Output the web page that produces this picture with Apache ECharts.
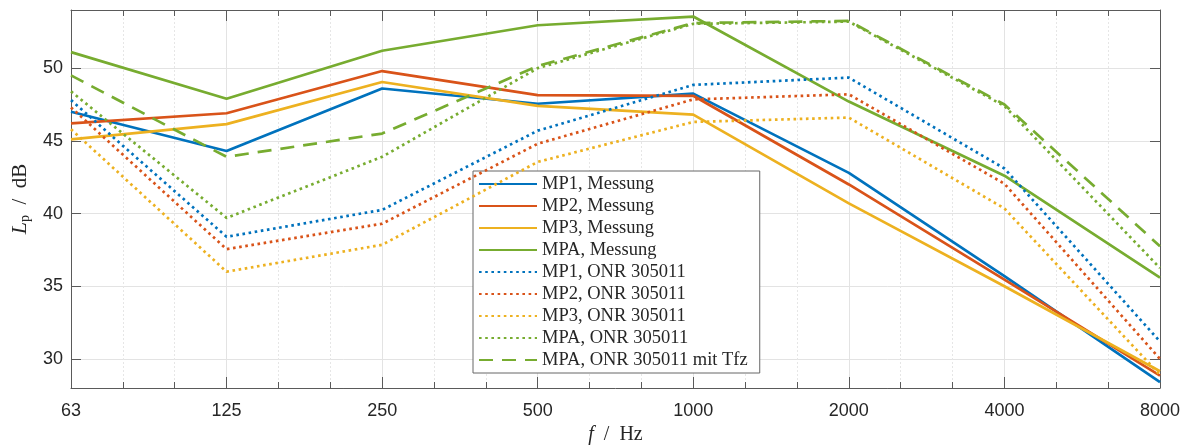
<!DOCTYPE html>
<html>
<head>
<meta charset="utf-8">
<script src="https://cdn.jsdelivr.net/npm/echarts@6/dist/echarts.min.js"></script>
<style>html,body{margin:0;padding:0;background:#fff}#c{width:1191px;height:445px}</style>
</head>
<body>
<div id="c"></div>
<script>
const freqLabels = ['63', '125', '250', '500', '1000', '2000', '4000', '8000'];
const seriesNames = ['MP1, Messung', 'MP2, Messung', 'MP3, Messung', 'MPA, Messung',
  'MP1, ONR 305011', 'MP2, ONR 305011', 'MP3, ONR 305011', 'MPA, ONR 305011', 'MPA, ONR 305011 mit Tfz'];
const mp1Messung = [47.0, 44.3, 48.6, 47.55, 48.25, 42.8, 35.7, 28.4];
const mp2Messung = [46.2, 46.9, 49.8, 48.15, 48.1, 42.0, 35.45, 28.85];
const mp3Messung = [45.1, 46.15, 49.05, 47.4, 46.8, 40.7, 35.0, 29.15];
const mpaMessung = [51.1, 47.9, 51.2, 52.95, 53.55, 47.7, 42.6, 35.6];
const mp1Onr = [47.8, 38.4, 40.25, 45.7, 48.85, 49.35, 43.1, 31.2];
const mp2Onr = [47.3, 37.55, 39.3, 44.8, 47.85, 48.2, 42.05, 30.0];
const mp3Onr = [45.8, 36.0, 37.85, 43.55, 46.3, 46.6, 40.35, 28.9];
const mpaOnr = [48.4, 39.7, 43.9, 50.0, 53.05, 53.2, 47.4, 36.25];
const mpaOnrTfz = [49.5, 43.9, 45.5, 50.15, 53.1, 53.25, 47.5, 37.75];

const C = { blue: '#0072BD', red: '#D95319', yellow: '#EDB120', green: '#77AC30' };
const DOT = [2.6, 3.6];
const DASH = [14, 9];
const styles = [
  { color: C.blue, type: 'solid' }, { color: C.red, type: 'solid' },
  { color: C.yellow, type: 'solid' }, { color: C.green, type: 'solid' },
  { color: C.blue, type: DOT }, { color: C.red, type: DOT },
  { color: C.yellow, type: DOT }, { color: C.green, type: DOT },
  { color: C.green, type: DASH }
];
const allData = [mp1Messung, mp2Messung, mp3Messung, mpaMessung, mp1Onr, mp2Onr, mp3Onr, mpaOnr, mpaOnrTfz];

const series = allData.map((arr, i) => ({
  name: seriesNames[i],
  type: 'line',
  symbol: 'none',
  showSymbol: false,
  animation: false,
  color: styles[i].color,
  lineStyle: { color: styles[i].color, width: 2.7, type: styles[i].type },
  data: arr.map((v, k) => [k, v]),
  z: 2 + i
}));

const axisColor = '#5a5a5a';
const labelFont = { fontFamily: 'Liberation Sans', fontSize: 18, color: '#262626' };

const xBase = {
  type: 'value', min: 0, max: freqLabels.length - 1, interval: 1,
  axisLine: { show: true, onZero: false, lineStyle: { color: axisColor, width: 1 } },
  axisTick: { show: true, inside: true, length: 11, lineStyle: { color: axisColor } },
  minorTick: { show: true, splitNumber: 3, length: 6, lineStyle: { color: axisColor } },
};

const chart = echarts.init(document.getElementById('c'), null, { renderer: 'canvas' });
chart.setOption({
  animation: false,
  backgroundColor: '#fff',
  grid: { left: 71, right: 31, top: 10, bottom: 57, containLabel: false, outerBoundsMode: 'none' },
  xAxis: [
    Object.assign({}, xBase, {
      position: 'bottom',
      name: '{i|f}  /  Hz', nameLocation: 'middle', nameGap: 36,
      nameTextStyle: { fontFamily: 'Liberation Serif', fontSize: 20, color: '#262626',
        rich: { i: { fontFamily: 'Liberation Serif', fontStyle: 'italic', fontSize: 20, color: '#262626' } } },
      axisLabel: Object.assign({ margin: 14, formatter: v => freqLabels[Math.round(v)] }, labelFont),
      splitLine: { show: true, lineStyle: { color: '#e3e3e3', width: 1 } },
      minorSplitLine: { show: true, lineStyle: { color: '#e6e6e6', width: 1, type: [2, 2] } }
    }),
    Object.assign({}, xBase, {
      position: 'top', axisLabel: { show: false }, splitLine: { show: false }
    })
  ],
  yAxis: [
    {
      type: 'value', min: 28, max: 54, splitNumber: 5, position: 'left',
      name: '{i|L}{s|p}{n|  /  dB}', nameLocation: 'middle', nameGap: 36,
      nameTextStyle: { fontFamily: 'Liberation Serif', fontSize: 21, color: '#262626',
        rich: {
          i: { fontFamily: 'Liberation Serif', fontStyle: 'italic', fontSize: 22, color: '#262626' },
          s: { fontFamily: 'Liberation Serif', fontSize: 14, color: '#262626', padding: [10, 0, 0, 0] },
          n: { fontFamily: 'Liberation Serif', fontSize: 21, color: '#262626' }
        } },
      axisLine: { show: true, onZero: false, lineStyle: { color: axisColor, width: 1 } },
      axisTick: { show: true, inside: true, length: 10, lineStyle: { color: axisColor } },
      axisLabel: Object.assign({ margin: 8, showMinLabel: false, showMaxLabel: false,
        formatter: v => (Math.abs(v % 5) < 1e-9 ? String(v) : '') }, labelFont),
      splitLine: { show: true, lineStyle: { color: '#e3e3e3', width: 1 } }
    },
    {
      type: 'value', min: 28, max: 54, splitNumber: 5, position: 'right',
      axisLine: { show: true, onZero: false, lineStyle: { color: axisColor, width: 1 } },
      axisTick: { show: true, inside: true, length: 10, lineStyle: { color: axisColor } },
      axisLabel: { show: false }, splitLine: { show: false }
    }
  ],
  legend: {
    orient: 'vertical', left: 473, top: 171,
    data: seriesNames,
    itemWidth: 58, itemHeight: 14, itemGap: 0,
    padding: [2, 12, 2, 5],
    itemStyle: { opacity: 0 },
    backgroundColor: '#fff', borderColor: '#666', borderWidth: 1,
    textStyle: { fontFamily: 'Liberation Serif', fontSize: 18.5, color: '#262626', lineHeight: 22 },
    selectedMode: false
  },
  series: series
});
</script>
</body>
</html>
